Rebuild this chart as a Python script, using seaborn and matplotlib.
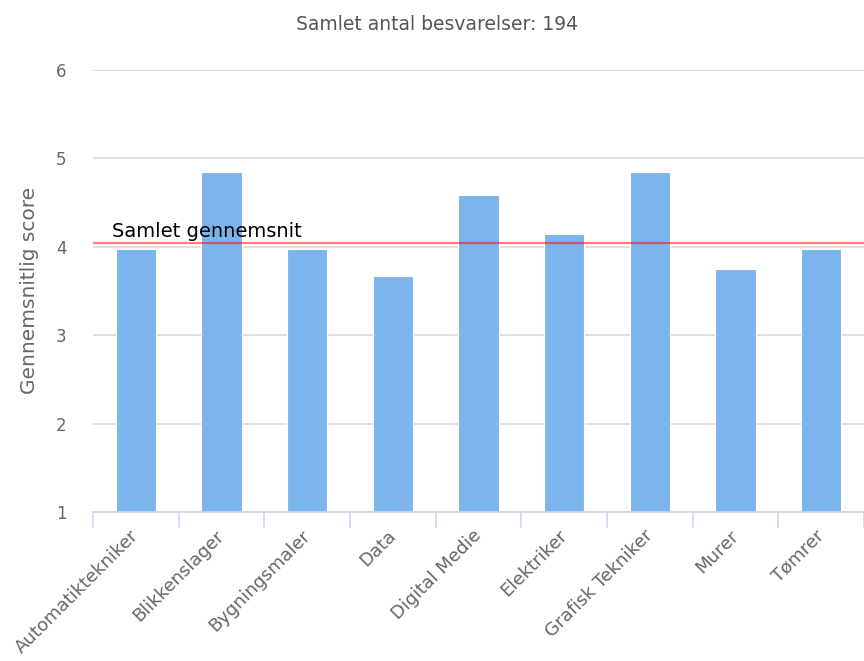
import numpy as np
import pandas as pd
import matplotlib
matplotlib.use("Agg")
import matplotlib.pyplot as plt
import seaborn as sns

# data
categories = ["Automatiktekniker", "Blikkenslager", "Bygningsmaler", "Data",
              "Digital Medie", "Elektriker", "Grafisk Tekniker", "Murer", "Tømrer"]
scores = [3.98, 4.85, 3.98, 3.67, 4.59, 4.15, 4.85, 3.75, 3.97]
avg_score = 4.04
n_responses = 194
y_ticks = [1, 2, 3, 4, 5, 6]

df = pd.DataFrame({"Uddannelse": categories, "Score": scores})

sns.set_style("white")
plt.rcParams["font.family"] = ["DejaVu Sans"]

grey = "#666666"
bar_color = "#7cb5ec"

fig = plt.figure(figsize=(8.64, 6.61), dpi=100)
# plot area runs a bit past the right edge, like the original
ax = fig.add_axes([93 / 864, 1 - 512 / 661, 771 / 864, 442 / 661])

sns.barplot(data=df, x="Uddannelse", y="Score", ax=ax, color=bar_color,
            saturation=1, width=0.47, edgecolor="white", linewidth=0.8,
            zorder=2)

ax.set_ylim(1, 6)
ax.set_xlim(-0.5, -0.5 + 771 / 86.7)

# gridlines
ax.set_yticks(y_ticks)
ax.yaxis.grid(True, color="#dcdcdc", linewidth=1.3, zorder=0)
ax.set_axisbelow(True)

# average line drawn on top of the bars
ax.axhline(avg_score, color="#ff0000", alpha=0.5, linewidth=1.6, zorder=3)
ax.annotate("Samlet gennemsnit", xy=(0.025, avg_score),
            xycoords=ax.get_yaxis_transform(), xytext=(0, 4.5),
            textcoords="offset points", ha="left", va="baseline",
            fontsize=14, color="black", zorder=4)

for s in ["top", "right", "left"]:
    ax.spines[s].set_visible(False)
ax.spines["bottom"].set_color("#ccd6eb")
ax.spines["bottom"].set_linewidth(1.2)

ax.tick_params(axis="y", length=0, pad=19, labelsize=12, labelcolor=grey)
ax.tick_params(axis="x", which="major", length=0, pad=15, labelsize=13,
               labelcolor=grey)
# tick marks sit between categories
ax.set_xticks(np.arange(-0.5, len(categories), 1), minor=True)
ax.tick_params(axis="x", which="minor", bottom=True, length=11.5, width=1.2,
               color="#ccd6eb", direction="out")
ax.set_xticks(range(len(categories)))
ax.set_xticklabels(categories, rotation=45, ha="right", va="center",
                   rotation_mode="anchor")

ax.set_xlabel("")
ax.set_ylabel("")
fig.text(30 / 864, 1 - 290 / 661, "Gennemsnitlig score", rotation=90,
         ha="center", va="center", fontsize=14.5, color=grey)
fig.text(437 / 864, 1 - 25 / 661, f"Samlet antal besvarelser: {n_responses}",
         ha="center", va="center", fontsize=13.5, color="#555555")

fig.savefig("out.png", dpi=100)
